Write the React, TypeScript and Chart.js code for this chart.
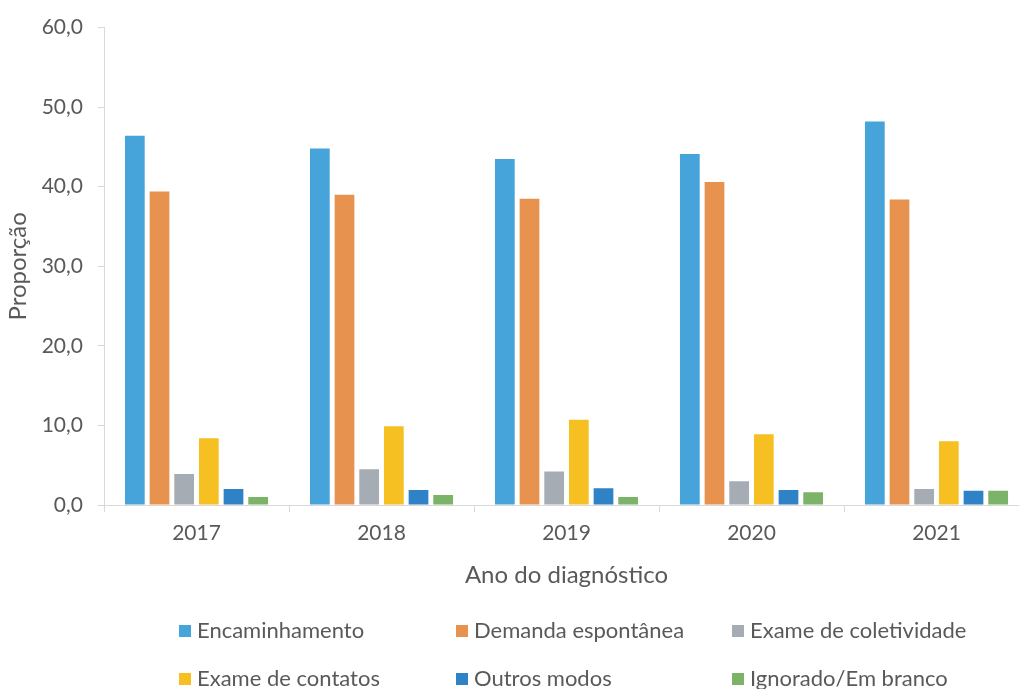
import React, { useEffect, useRef } from "react";
import { Chart, registerables } from "chart.js";

Chart.register(...registerables);

const categories = ["2017", "2018", "2019", "2020", "2021"];
const seriesNames = [
  "Encaminhamento",
  "Demanda espontânea",
  "Exame de coletividade",
  "Exame de contatos",
  "Outros modos",
  "Ignorado/Em branco",
];
const encaminhamento = [46.4, 44.8, 43.5, 44.1, 48.2];
const demanda = [39.4, 39.0, 38.5, 40.6, 38.4];
const coletividade = [3.9, 4.5, 4.2, 3.0, 2.0];
const contatos = [8.4, 9.9, 10.7, 8.9, 8.0];
const outros = [2.0, 1.9, 2.1, 1.9, 1.8];
const ignorado = [1.0, 1.25, 1.0, 1.6, 1.8];
const colors = ["#46A4DA", "#E8924F", "#A6ACB3", "#F6C022", "#2F82C6", "#7BB368"];
const yTicks = [0, 10, 20, 30, 40, 50, 60];

const FONT = "Lato";
const TEXT = "#595959";
const AXIS = "#D9D9D9";

const legendPlugin = {
  id: "gridLegend",
  afterDraw(chart: any) {
    const ctx = chart.ctx;
    const cols = [179, 456, 732];
    const rows = [631, 679];
    ctx.save();
    ctx.font = `22px ${FONT}`;
    ctx.textBaseline = "middle";
    ctx.textAlign = "left";
    chart.data.datasets.forEach((ds: any, i: number) => {
      const x = cols[i % 3];
      const y = rows[Math.floor(i / 3)];
      ctx.fillStyle = ds.backgroundColor;
      ctx.fillRect(x, y - 6, 12, 12);
      ctx.fillStyle = TEXT;
      ctx.fillText(ds.label, x + 18, y);
    });
    ctx.restore();
  },
};

export default function App() {
  const ref = useRef<HTMLCanvasElement>(null);
  useEffect(() => {
    if (!ref.current) return;
    const values = [encaminhamento, demanda, coletividade, contatos, outros, ignorado];
    const chart = new Chart(ref.current, {
      type: "bar",
      data: {
        labels: categories,
        datasets: seriesNames.map((name, i) => ({
          label: name,
          data: values[i],
          backgroundColor: colors[i],
          borderWidth: 0,
          categoryPercentage: 0.8,
          barPercentage: 0.8,
        })),
      },
      options: {
        responsive: false,
        animation: false,
        devicePixelRatio: 1,
        layout: { padding: { top: 24, bottom: 99, right: 6, left: 0 } },
        plugins: { legend: { display: false }, tooltip: { enabled: false } },
        scales: {
          x: {
            grid: {
              offset: true,
              drawOnChartArea: false,
              drawTicks: true,
              tickLength: 7,
              color: AXIS,
            },
            border: { color: AXIS, width: 1 },
            ticks: { color: TEXT, font: { family: FONT, size: 21 }, padding: 9 },
            title: {
              display: true,
              text: "Ano do diagnóstico",
              color: TEXT,
              font: { family: FONT, size: 24 },
              padding: { top: 0, bottom: 0 },
            },
            afterFit(scale: any) {
              scale.height = 85;
            },
          },
          y: {
            min: 0,
            max: 60,
            afterBuildTicks(scale: any) {
              scale.ticks = yTicks.map((v) => ({ value: v }));
            },
            grid: { drawOnChartArea: false, tickLength: 6, color: AXIS },
            border: { color: AXIS, width: 1 },
            ticks: {
              color: TEXT,
              font: { family: FONT, size: 21 },
              padding: 15,
              callback: (v: any) => Number(v).toFixed(1).replace(".", ","),
            },
            title: {
              display: true,
              text: "Proporção",
              color: TEXT,
              font: { family: FONT, size: 24 },
              padding: { top: 4, bottom: 0 },
            },
            afterFit(scale: any) {
              scale.width = 104;
            },
          },
        },
      },
      plugins: [legendPlugin],
    });
    return () => chart.destroy();
  }, []);
  return (
    <div
      style={{
        position: "fixed",
        left: 0,
        top: 0,
        width: 1019,
        height: 689,
        overflow: "hidden",
        background: "#fff",
      }}
    >
      <canvas ref={ref} width={1035} height={689} style={{ display: "block" }} />
    </div>
  );
}
